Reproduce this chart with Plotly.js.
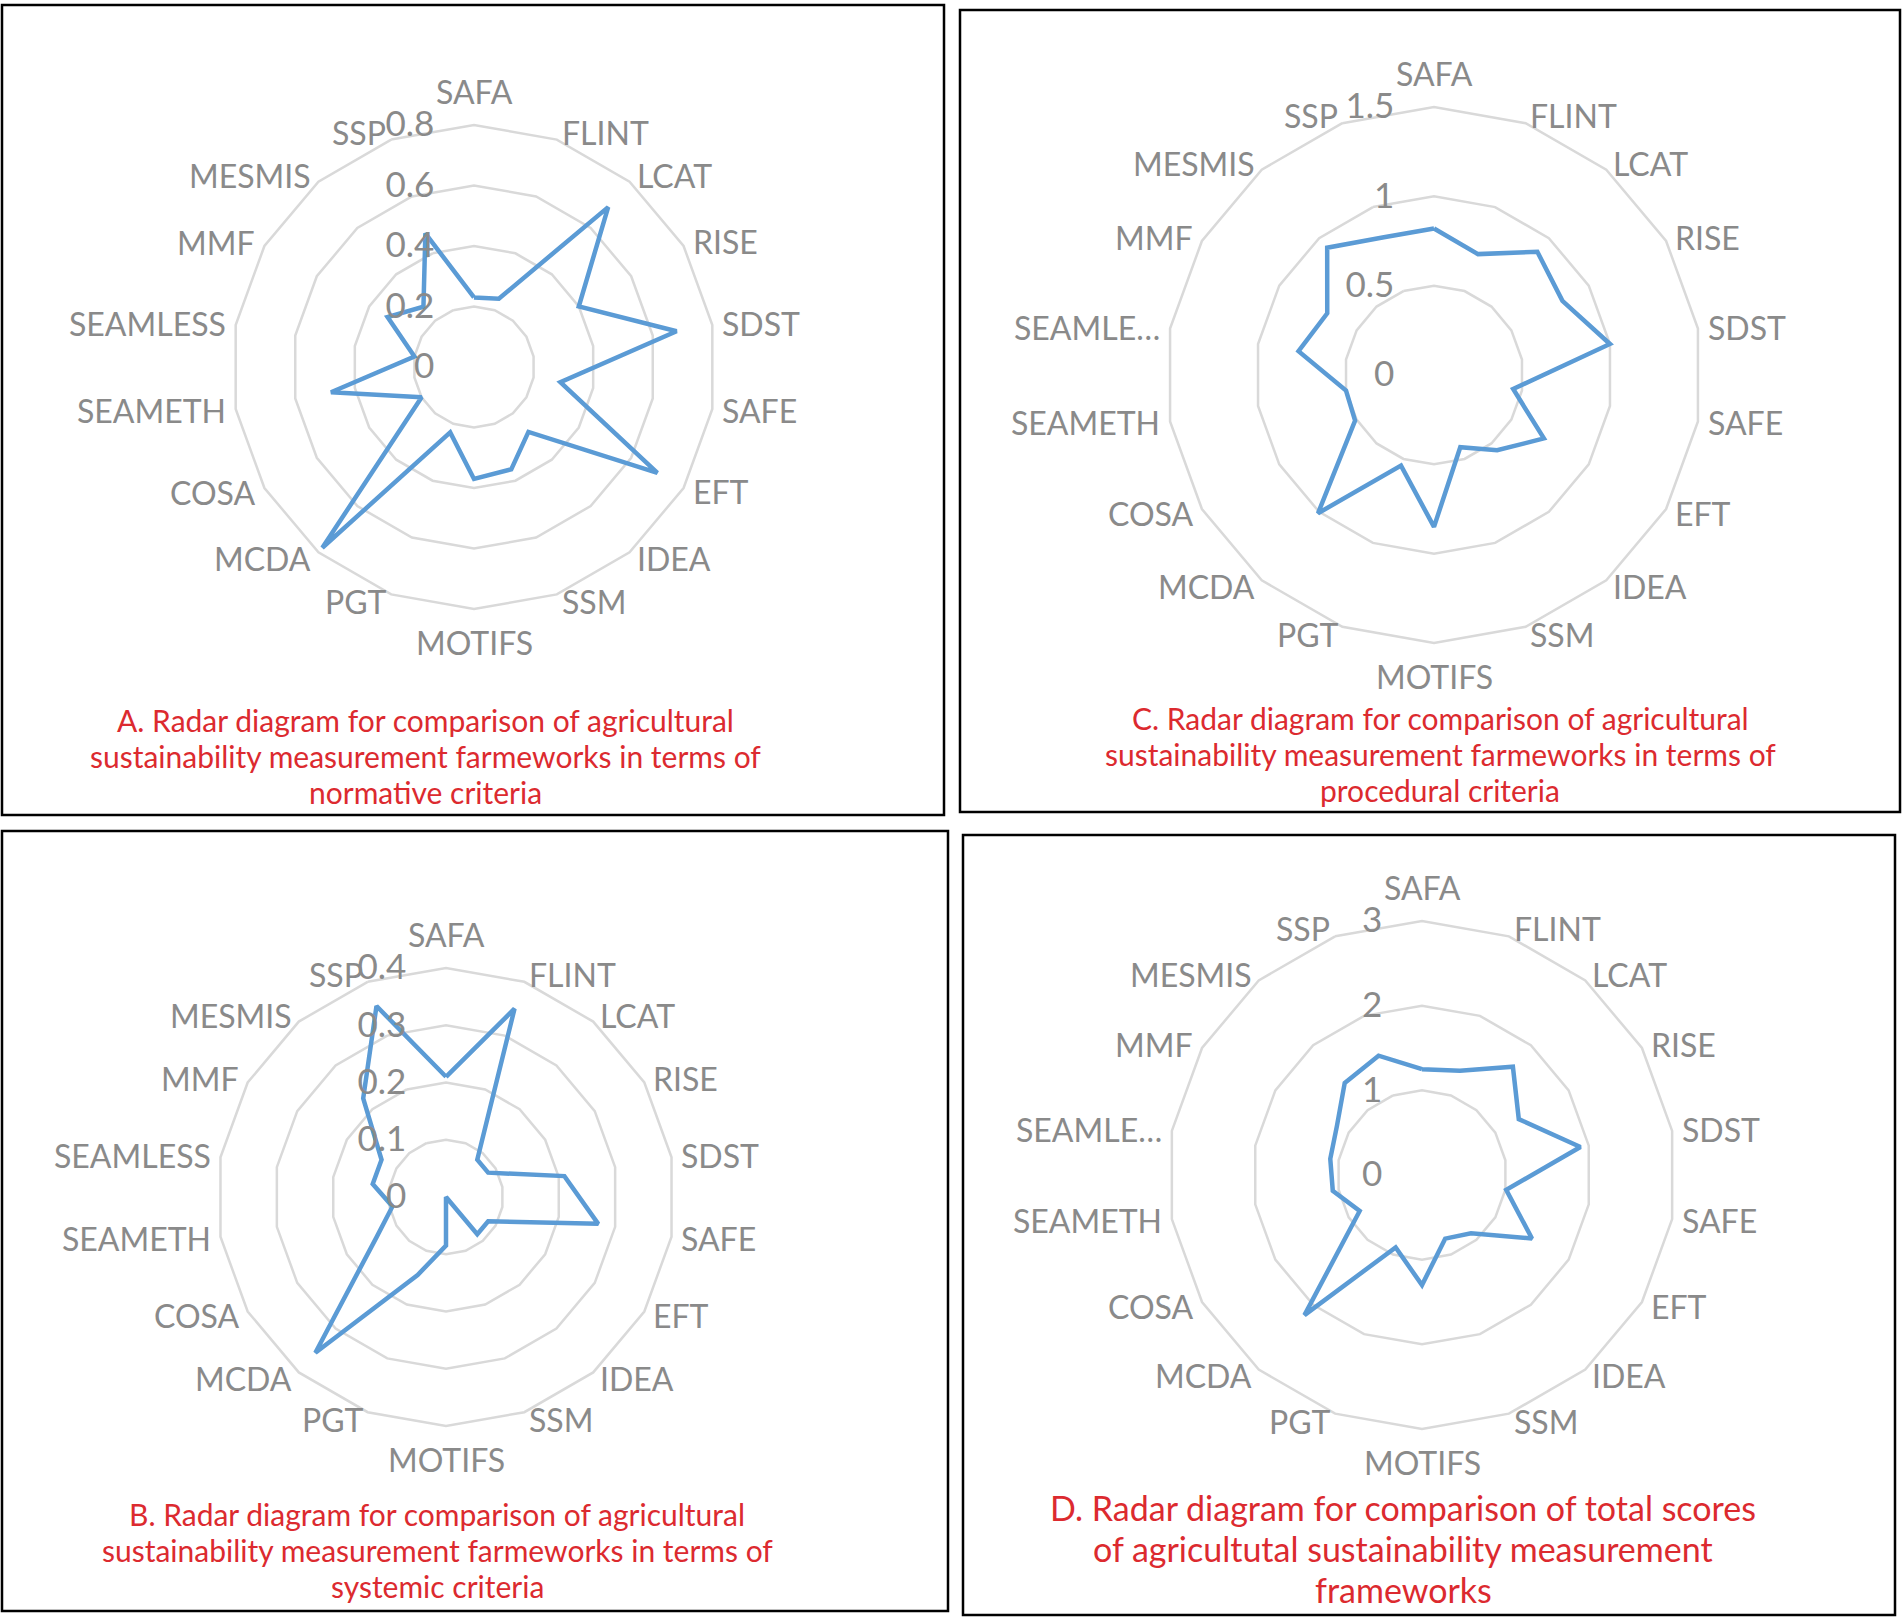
<!DOCTYPE html>
<html>
<head>
<meta charset="utf-8">
<script src="https://cdn.plot.ly/plotly-3.0.1.min.js"></script>
<style>
  body { margin: 0; background: #fff; }
  #chart { width: 1904px; height: 1617px; }
</style>
</head>
<body>
<div id="chart"></div>
<script>
// categories, clockwise from the top
var frameworks = ['SAFA', 'FLINT', 'LCAT', 'RISE', 'SDST', 'SAFE', 'EFT', 'IDEA', 'SSM', 'MOTIFS',
                  'PGT', 'MCDA', 'COSA', 'SEAMETH', 'SEAMLESS', 'MMF', 'MESMIS', 'SSP'];
// C and D show the long name cut short
var frameworksShort = ['SAFA', 'FLINT', 'LCAT', 'RISE', 'SDST', 'SAFE', 'EFT', 'IDEA', 'SSM', 'MOTIFS',
                       'PGT', 'MCDA', 'COSA', 'SEAMETH', 'SEAMLE\u2026', 'MMF', 'MESMIS', 'SSP'];

var normative  = [0.23, 0.24, 0.69, 0.40, 0.68, 0.29, 0.70, 0.28, 0.36, 0.37, 0.23, 0.78, 0.20, 0.48, 0.20, 0.33, 0.26, 0.47];
var systemic   = [0.21, 0.35, 0.085, 0.085, 0.21, 0.27, 0.085, 0.085, 0, 0.085, 0.145, 0.355, 0.14, 0.095, 0.13, 0.13, 0.225, 0.355];
var procedural = [0.82, 0.72, 0.90, 0.83, 1.00, 0.45, 0.71, 0.55, 0.43, 0.85, 0.54, 1.01, 0.51, 0.50, 0.77, 0.69, 0.93, 0.82];
var total      = [1.25, 1.31, 1.67, 1.32, 1.90, 1.01, 1.50, 0.90, 0.80, 1.30, 0.91, 2.16, 0.85, 1.07, 1.10, 1.16, 1.42, 1.50];

var titleA = ['A. Radar diagram for comparison of agricultural',
              'sustainability measurement farmeworks in terms of',
              'normative criteria'];
var titleB = ['B. Radar diagram for comparison of agricultural',
              'sustainability measurement farmeworks in terms of',
              'systemic criteria'];
var titleC = ['C. Radar diagram for comparison of agricultural',
              'sustainability measurement farmeworks in terms of',
              'procedural criteria'];
var titleD = ['D. Radar diagram for comparison of total scores',
              'of agricultutal sustainability measurement',
              'frameworks'];

var W = 1904, H = 1617;
var gray = '#8a8a8a';
var gridGray = '#d9d9d9';
var red = '#dc2a2f';
var fontFam = 'Lato, "Open Sans", sans-serif';

// polar area placed by centre and outer radius, in page pixels
function makePolar(cx, cy, R, rmax, dtick) {
    return {
        domain: {
            x: [(cx - R) / W, (cx + R) / W],
            y: [1 - (cy + R) / H, 1 - (cy - R) / H]
        },
        bgcolor: 'white',
        gridshape: 'linear',
        radialaxis: {
            range: [0, rmax],
            dtick: dtick,
            angle: 90,
            side: 'counterclockwise',
            tickangle: 90,
            showline: false,
            ticks: 'outside',
            ticklen: 27,
            tickcolor: 'rgba(0,0,0,0)',
            gridcolor: gridGray,
            gridwidth: 2.5,
            tickfont: { family: fontFam, size: 35, color: gray }
        },
        angularaxis: {
            direction: 'clockwise',
            rotation: 90,
            showgrid: false,
            showline: true,
            showticklabels: false,
            ticks: '',
            linecolor: gridGray,
            linewidth: 2.5
        }
    };
}

function radarTrace(cats, vals, sub) {
    return {
        type: 'scatterpolar',
        subplot: sub,
        theta: cats.concat([cats[0]]),
        r: vals.concat([vals[0]]),
        mode: 'lines',
        line: { color: '#5b9bd5', width: 4.5 },
        hoverinfo: 'skip'
    };
}

var data = [
    radarTrace(frameworks, normative, 'polar'),
    radarTrace(frameworksShort, procedural, 'polar2'),
    radarTrace(frameworks, systemic, 'polar3'),
    radarTrace(frameworksShort, total, 'polar4')
];

// category names set just outside the outer ring, the way Excel lays them out
function categoryLabels(cats, cx, cy, R) {
    var n = cats.length;
    return cats.map(function (c, i) {
        var a = 2 * Math.PI * i / n;
        var s = Math.sin(a), co = Math.cos(a);
        var top = Math.abs(s) < 0.01;
        var rr = top ? R + 12 : R + 8;
        return {
            text: c, showarrow: false,
            xref: 'paper', yref: 'paper',
            x: (cx + rr * s) / W,
            y: 1 - (cy - rr * co) / H,
            xanchor: top ? 'center' : (s > 0 ? 'left' : 'right'),
            yanchor: top ? (co > 0 ? 'bottom' : 'top') : 'middle',
            font: { family: fontFam, size: 32, color: gray }
        };
    });
}

function titleLines(lines, cx, y0, step, size) {
    return lines.map(function (t, i) {
        return {
            text: t, showarrow: false,
            xref: 'paper', yref: 'paper',
            x: cx / W, y: 1 - (y0 + i * step) / H,
            xanchor: 'center', yanchor: 'middle',
            font: { family: fontFam, size: size, color: red }
        };
    });
}

function box(x0, y0, x1, y1) {
    return {
        type: 'rect', xref: 'paper', yref: 'paper',
        x0: x0 / W, x1: x1 / W, y0: 1 - y1 / H, y1: 1 - y0 / H,
        line: { color: 'black', width: 2.5 }
    };
}

var layout = {
    width: W,
    height: H,
    margin: { l: 0, r: 0, t: 0, b: 0 },
    paper_bgcolor: 'white',
    showlegend: false,
    polar:  makePolar(474, 367, 242, 0.8, 0.2),
    polar2: makePolar(1434, 375, 268, 1.5, 0.5),
    polar3: makePolar(446, 1197, 229, 0.4, 0.1),
    polar4: makePolar(1422, 1175, 254, 3, 1),
    annotations: []
        .concat(categoryLabels(frameworks, 474, 367, 242))
        .concat(categoryLabels(frameworksShort, 1434, 375, 268))
        .concat(categoryLabels(frameworks, 446, 1197, 229))
        .concat(categoryLabels(frameworksShort, 1422, 1175, 254))
        .concat(titleLines(titleA, 425, 720, 36, 30))
        .concat(titleLines(titleC, 1440, 718, 36, 30))
        .concat(titleLines(titleB, 437, 1514, 36, 30))
        .concat(titleLines(titleD, 1403, 1507, 41, 34)),
    shapes: [
        box(2, 5, 944, 815),
        box(960, 10, 1900, 812),
        box(2, 831, 948, 1611),
        box(963, 835, 1895, 1615)
    ]
};

Plotly.newPlot('chart', data, layout, { displayModeBar: false, staticPlot: true });
</script>
</body>
</html>
